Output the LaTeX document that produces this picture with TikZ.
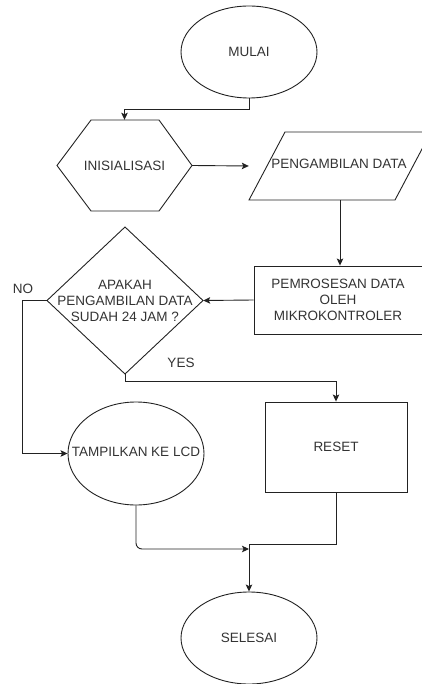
\documentclass[tikz,border=0pt]{standalone}
\usepackage{fontspec}
\setmainfont{Liberation Sans}
\usetikzlibrary{shapes.geometric,arrows.meta}
\definecolor{ln}{HTML}{222222}
\definecolor{tx}{HTML}{333333}
\begin{document}
\begin{tikzpicture}[x=1pt,y=-1pt,
  every node/.style={text=tx,font=\fontsize{13.5}{16}\selectfont,inner sep=0pt,align=center},
  term/.style={ellipse,draw=ln,line width=0.9pt},
  arr/.style={draw=ln,line width=0.9pt,-{Stealth[length=7pt,width=6.5pt,inset=1.5pt]}},
  shp/.style={draw=ln,line width=0.9pt,line join=miter}]
\useasboundingbox (0,0) rectangle (422,684);
\begin{scope}
\clip (0,0) rectangle (422,684);
% terminals
\node[term,minimum width=136pt,minimum height=92pt] (start) at (249,52) {MULAI};
\node[term,minimum width=136pt,minimum height=103pt] (lcd) at (136,453.5) {};
\node at (136,452) {TAMPILKAN KE LCD};
\node[term,minimum width=136pt,minimum height=92pt] (end) at (249,638) {SELESAI};
% hexagon
\node[minimum width=135pt,minimum height=91pt] (init) at (124.5,165.5) {INISIALISASI};
\draw[shp] (57,165.5) -- (91,120) -- (159,120) -- (192,165.5) -- (159,211) -- (91,211) -- cycle;
% parallelogram
\node[minimum width=182pt,minimum height=68pt] (pd) at (340,166) {};
\node at (339,164) {PENGAMBILAN DATA};
\draw[shp] (285,132) -- (431,132) -- (395,200) -- (249,200) -- cycle;
% process
\node[shp,minimum width=168pt,minimum height=68pt] (proc) at (338,300) {PEMROSESAN DATA\\OLEH\\MIKROKONTROLER};
% decision
\node[minimum width=156pt,minimum height=147pt] (dec) at (125,300.5) {APAKAH\\PENGAMBILAN DATA\\SUDAH 24 JAM ?};
\draw[shp] (125,227) -- (203,300.5) -- (125,374) -- (47,300.5) -- cycle;
% reset
\node[shp,minimum width=142pt,minimum height=90pt] (reset) at (336,447) {RESET};
% labels
\node (no) at (23,289) {NO};
\node (yes) at (181,363) {YES};
% join points
\coordinate (m1) at (249,549);
\coordinate (m2) at (249,544);
% connectors
\draw[arr] (start.south) -- ++(0,11) -| (init.north);
\draw[arr] (init.east) -- (pd.west);
\draw[arr] (pd.south) -- (pd.south |- proc.north);
\draw[arr] (proc.west) -- (dec.east);
\draw[arr] (dec.west) -- ++(-24,0) |- (lcd.west);
\draw[arr] (dec.south) -- ++(0,7) -| (reset.north);
\draw[arr,rounded corners=6pt] (lcd.south) |- (m1);
\draw[arr] (reset.south) |- (m2) -- (end.north);
\end{scope}
\end{tikzpicture}
\end{document}
